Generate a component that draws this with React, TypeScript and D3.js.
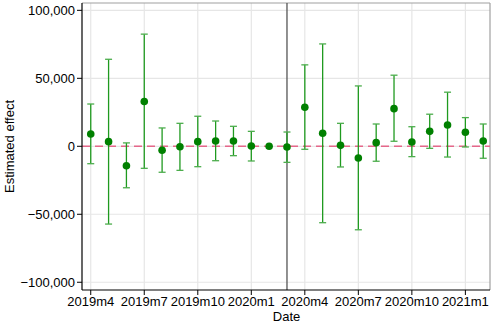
import React from "react";
import * as d3 from "d3";

const monthIndex = d3.range(0, 23);
const monthLabels = ["2019m4","2019m5","2019m6","2019m7","2019m8","2019m9","2019m10","2019m11","2019m12","2020m1","2020m2","2020m3","2020m4","2020m5","2020m6","2020m7","2020m8","2020m9","2020m10","2020m11","2020m12","2021m1","2021m2"];
const estimate = [9000, 3400, -14300, 32900, -2900, -300, 3400, 3900, 3900, 200, 0, -500, 28700, 9600, 700, -8600, 2700, 27700, 3200, 11000, 15700, 10300, 3900];
const upper: (number | null)[] = [31100, 64000, 2500, 82500, 13500, 16900, 22100, 18600, 14700, 11000, null, 10500, 59900, 75300, 16900, 44400, 16400, 52300, 14400, 23600, 39800, 21100, 16400];
const lower: (number | null)[] = [-12800, -57200, -30500, -16200, -19100, -17700, -15000, -10600, -6900, -10800, null, -11800, -2200, -56200, -15200, -61400, -11000, 3700, -7600, -1500, -7900, -500, -8800];
const xTickIdx = [0, 3, 6, 9, 12, 15, 18, 21];
const yTicks = [-100000, -50000, 0, 50000, 100000];
const eventIdx = 11;

const W = 491, H = 323;
const L = 82, R = 490, T = 3, B = 290;

export default function App() {
  const x = d3.scaleLinear().domain([-0.49, 22.38]).range([L, R]);
  const y = d3.scaleLinear().domain([-105700, 105400]).range([B, T]);
  const fmt = d3.format(",");
  const font = "'Liberation Sans', Arial, Helvetica, sans-serif";
  return (
    <svg width={W} height={H} style={{ position: "absolute", left: 0, top: 0, background: "#fff" }} fontFamily={font}>
      <rect x={0} y={0} width={W} height={H} fill="#fff" />
      {/* grid */}
      {yTicks.map((t) => (
        <line key={"gy" + t} x1={L} x2={R} y1={y(t)} y2={y(t)} stroke="#e6e6e6" strokeWidth={1.2} />
      ))}
      {xTickIdx.map((i) => (
        <line key={"gx" + i} x1={x(i)} x2={x(i)} y1={T} y2={B} stroke="#e6e6e6" strokeWidth={1.2} />
      ))}
      {/* frame top/right */}
      <line x1={L} x2={R} y1={T} y2={T} stroke="#a0a0a0" strokeWidth={1.2} />
      <line x1={R} x2={R} y1={T} y2={B} stroke="#a0a0a0" strokeWidth={1.2} />
      {/* zero line */}
      <line x1={L} x2={R} y1={y(0)} y2={y(0)} stroke="#e5678a" strokeWidth={1.5} strokeDasharray="8,5" />
      {/* event line */}
      <line x1={x(eventIdx)} x2={x(eventIdx)} y1={T} y2={B} stroke="#555" strokeWidth={1.3} />
      {/* error bars */}
      {monthIndex.map((i) => {
        const u = upper[i], l = lower[i];
        if (u == null || l == null) return null;
        const cx = x(i);
        return (
          <g key={"e" + i}>
            <line x1={cx} x2={cx} y1={y(u)} y2={y(l)} stroke="#1f9a1f" strokeWidth={1.3} />
            <line x1={cx - 3.5} x2={cx + 3.5} y1={y(u)} y2={y(u)} stroke="#4cad4c" strokeWidth={1.3} />
            <line x1={cx - 3.5} x2={cx + 3.5} y1={y(l)} y2={y(l)} stroke="#4cad4c" strokeWidth={1.3} />
          </g>
        );
      })}
      {/* points */}
      {monthIndex.map((i) => (
        <circle key={"p" + i} cx={x(i)} cy={y(estimate[i])} r={3.8} fill="#008000" />
      ))}
      {/* axes */}
      <line x1={L} x2={L} y1={T} y2={B} stroke="#000" strokeWidth={1.2} />
      <line x1={L} x2={R} y1={B} y2={B} stroke="#000" strokeWidth={1.2} />
      {yTicks.map((t) => (
        <g key={"yt" + t}>
          <line x1={L - 5} x2={L} y1={y(t)} y2={y(t)} stroke="#000" strokeWidth={1} />
          <text x={L - 7} y={y(t)} dy="0.35em" textAnchor="end" fontSize={13} fill="#000">{fmt(t)}</text>
        </g>
      ))}
      {xTickIdx.map((i) => (
        <g key={"xt" + i}>
          <line x1={x(i)} x2={x(i)} y1={B} y2={B + 5} stroke="#000" strokeWidth={1} />
          <text x={x(i)} y={306} textAnchor="middle" fontSize={13} fill="#000">{monthLabels[i]}</text>
        </g>
      ))}
      <text x={(L + R) / 2 + 0.5} y={321} textAnchor="middle" fontSize={13} fill="#000">Date</text>
      <text transform={`translate(14, ${(T + B) / 2}) rotate(-90)`} textAnchor="middle" fontSize={13} fill="#000">Estimated effect</text>
    </svg>
  );
}
